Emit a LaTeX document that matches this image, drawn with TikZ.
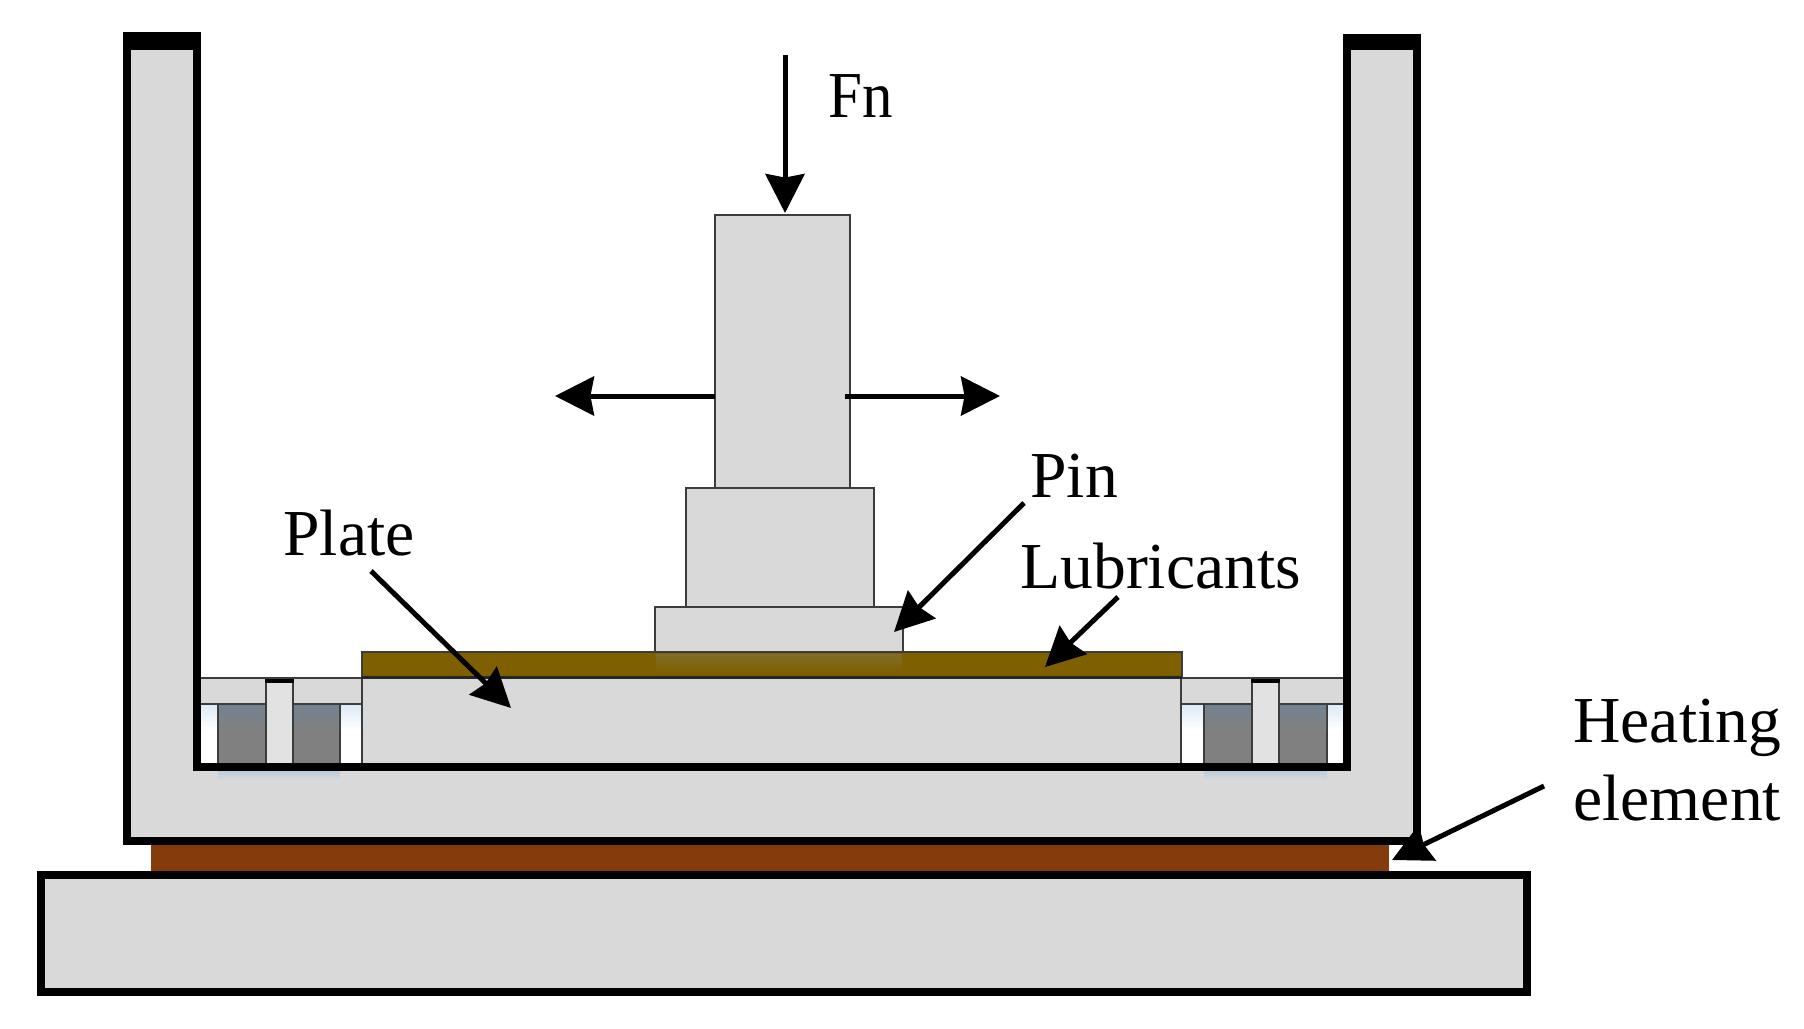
\documentclass[tikz,border=0pt]{standalone}
\usepackage{fontspec}
\setmainfont{Liberation Serif}
\newfontfamily\narrowserif[FakeStretch=0.93]{Liberation Serif}
\usetikzlibrary{arrows.meta}
\definecolor{partgray}{HTML}{D9D9D9}
\definecolor{studgray}{HTML}{E2E2E2}
\definecolor{blockgray}{HTML}{808080}
\definecolor{blocktop}{HTML}{738290}
\definecolor{goldlayer}{HTML}{7F6000}
\definecolor{goldsoft}{HTML}{7F6D28}
\definecolor{brownlayer}{HTML}{843C0C}
\definecolor{edgedark}{HTML}{3C3C3C}
\definecolor{gapblue}{HTML}{DCEAF8}
\definecolor{floorblue}{HTML}{B9CDDC}
\tikzset{
  thinpart/.style={fill=partgray,draw=edgedark,line width=1.35pt,line join=miter},
  heavypart/.style={fill=partgray,draw=black,line width=3.75pt,line join=miter},
  blockpart/.style={fill=blockgray,draw=edgedark,line width=1.35pt},
  lbl/.style={font=\fontsize{32.8}{39}\selectfont,inner sep=0pt,anchor=base west,text=black},
  pointer/.style={draw=black,line width=2.5pt,-{Stealth[length=19.5pt,width=19.5pt,inset=1.8pt]}},
}
\begin{document}
\begin{tikzpicture}[x=0.5pt,y=-0.5pt]
\useasboundingbox (0,0) rectangle (1804,1028);
% side gaps, faint tint at their tops
\shade[top color=gapblue,bottom color=white] (197,704) rectangle (218,730);
\shade[top color=gapblue,bottom color=white] (340,704) rectangle (362,730);
\shade[top color=gapblue,bottom color=white] (1181,704) rectangle (1204,730);
\shade[top color=gapblue,bottom color=white] (1327,704) rectangle (1347,730);
% plate
\draw[thinpart] (362,678) rectangle (1181,767);
% flanges and studs, left
\draw[thinpart] (197,678) rectangle (362,704);
\draw[blockpart] (218,704) rectangle (266,765);
\draw[blockpart] (293,704) rectangle (340,765);
\shade[top color=blocktop,bottom color=blockgray] (219,705) rectangle (265,730);
\shade[top color=blocktop,bottom color=blockgray] (294,705) rectangle (339,730);
\draw[thinpart,fill=studgray] (266,681) rectangle (293,765);
\draw[black,line width=2pt] (265,681) -- (294,681);
% flanges and studs, right
\draw[thinpart] (1181,678) rectangle (1347,704);
\draw[blockpart] (1204,704) rectangle (1252,765);
\draw[blockpart] (1279,704) rectangle (1327,765);
\shade[top color=blocktop,bottom color=blockgray] (1205,705) rectangle (1251,730);
\shade[top color=blocktop,bottom color=blockgray] (1280,705) rectangle (1326,730);
\draw[thinpart,fill=studgray] (1252,681) rectangle (1279,765);
\draw[black,line width=2pt] (1251,681) -- (1280,681);
% heating element and base
\fill[brownlayer] (151,843) rectangle (1389,875);
\draw[heavypart] (41,875) rectangle (1527,992);
% U channel
\draw[heavypart] (127,41) -- (197,41) -- (197,767) -- (1347,767) -- (1347,41) -- (1417,41) -- (1417,841) -- (127,841) -- cycle;
\fill[black] (123,32) rectangle (201,50);
\fill[black] (1343,34) rectangle (1421,50);
% faint tint on the floor below the studs
\shade[top color=floorblue,bottom color=partgray] (218,771) rectangle (340,780);
\shade[top color=floorblue,bottom color=partgray] (1204,771) rectangle (1327,780);
% pin stack
\draw[thinpart] (655,607) rectangle (903,652);
\draw[thinpart] (686,488) rectangle (874,607);
\draw[thinpart] (715,215) rectangle (850,488);
% lubricant
\fill[goldlayer] (362,652) rectangle (1182,677);
\shade[top color=goldsoft,bottom color=goldlayer] (656,654) rectangle (902,672);
\draw[edgedark,line width=1.1pt] (362,677) -- (362,652) -- (1182,652) -- (1182,677);
\draw[black!85,line width=1.4pt] (362,677.5) -- (1182,677.5);
% labels
\node[lbl,font=\fontsize{32.8}{39}\narrowserif] (fn) at (828,117) {Fn};
\node[lbl] (pin) at (1030,497) {Pin};
\node[lbl] (lub) at (1020,588) {Lubricants};
\node[lbl] (plate) at (283,555) {Plate};
\node[lbl] (heat) at (1573,742) {Heating};
\node[lbl] (elem) at (1573,820) {element};
% connector ends
\coordinate (fnstart) at (785,55);
\coordinate (fnend) at (785,213);
\coordinate (leftstart) at (715,396);
\coordinate (lefttip) at (555,396);
\coordinate (rightstart) at (845,396);
\coordinate (righttip) at (1000,396);
\coordinate (pinstart) at (1024,503);
\coordinate (pintip) at (894,632);
\coordinate (lubstart) at (1118,597);
\coordinate (lubtip) at (1045,667);
\coordinate (platestart) at (371,571);
\coordinate (platetip) at (511,708);
\coordinate (heatstart) at (1544,786);
\coordinate (heattip) at (1392,860);
% connectors
\draw[pointer] (fnstart) -- (fnend);
\draw[pointer] (leftstart) -- (lefttip);
\draw[pointer] (rightstart) -- (righttip);
\draw[pointer] (pinstart) -- (pintip);
\draw[pointer] (lubstart) -- (lubtip);
\draw[pointer] (platestart) -- (platetip);
\draw[pointer] (heatstart) -- (heattip);
\end{tikzpicture}
\end{document}
